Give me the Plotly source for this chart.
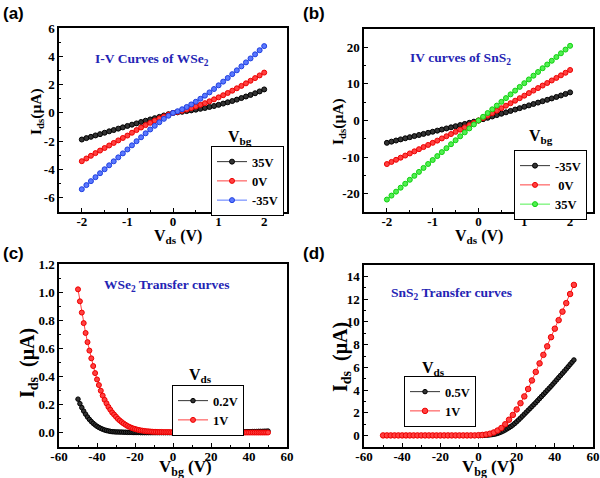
import plotly.graph_objects as go

# ---------------- data ----------------
vds = [round(-2 + 0.1 * i, 1) for i in range(41)]

# (a) WSe2 I-V
wse2_35 = [-1.88, -1.78, -1.69, -1.59, -1.50, -1.40, -1.30, -1.21, -1.11, -1.02, -0.92,
           -0.83, -0.74, -0.64, -0.55, -0.46, -0.37, -0.28, -0.18, -0.09, 0.0,
           0.04, 0.08, 0.13, 0.18, 0.23, 0.29, 0.35, 0.42, 0.49, 0.57,
           0.66, 0.75, 0.84, 0.94, 1.05, 1.16, 1.27, 1.39, 1.52, 1.66]
wse2_0 = [-3.41, -3.22, -3.03, -2.84, -2.66, -2.48, -2.30, -2.12, -1.94, -1.77, -1.60,
          -1.40, -1.21, -1.03, -0.86, -0.70, -0.54, -0.39, -0.25, -0.12, 0.0,
          0.07, 0.15, 0.24, 0.34, 0.45, 0.57, 0.69, 0.82, 0.96, 1.10,
          1.25, 1.41, 1.57, 1.74, 1.91, 2.09, 2.27, 2.46, 2.65, 2.85]
wse2_m35 = [-5.39, -5.10, -4.82, -4.54, -4.26, -3.98, -3.70, -3.42, -3.14, -2.86, -2.58,
            -2.29, -2.00, -1.72, -1.44, -1.17, -0.91, -0.66, -0.42, -0.20, 0.0,
            0.12, 0.26, 0.42, 0.60, 0.79, 1.00, 1.22, 1.45, 1.69, 1.95,
            2.21, 2.47, 2.74, 3.01, 3.29, 3.57, 3.85, 4.14, 4.43, 4.72]

# (b) SnS2 I-V
sns2_m35 = [-6.10, -5.78, -5.47, -5.16, -4.86, -4.56, -4.26, -3.96, -3.66, -3.37, -3.07,
            -2.77, -2.47, -2.17, -1.87, -1.56, -1.25, -0.94, -0.63, -0.32, 0.0,
            0.36, 0.73, 1.10, 1.47, 1.85, 2.23, 2.61, 2.99, 3.37, 3.75,
            4.13, 4.51, 4.89, 5.27, 5.65, 6.03, 6.43, 6.84, 7.26, 7.68]
sns2_0 = [-11.90, -11.32, -10.74, -10.16, -9.58, -9.00, -8.42, -7.84, -7.26, -6.68, -6.10,
          -5.50, -4.90, -4.30, -3.70, -3.10, -2.50, -1.88, -1.26, -0.64, 0.0,
          0.66, 1.33, 2.00, 2.68, 3.36, 4.04, 4.72, 5.41, 6.10, 6.79,
          7.48, 8.17, 8.86, 9.55, 10.24, 10.94, 11.64, 12.34, 13.04, 13.80]
sns2_35 = [-21.60, -20.52, -19.44, -18.36, -17.28, -16.20, -15.12, -14.04, -12.96, -11.88, -10.80,
           -9.72, -8.64, -7.56, -6.48, -5.40, -4.32, -3.24, -2.16, -1.08, 0.0,
           1.02, 2.04, 3.06, 4.08, 5.10, 6.12, 7.14, 8.16, 9.18, 10.20,
           11.22, 12.24, 13.26, 14.28, 15.30, 16.32, 17.34, 18.36, 19.38, 20.40]

# (c) WSe2 transfer
vbg_c = list(range(-50, 51))
wse2_t02 = ([0.24, 0.208, 0.18, 0.155, 0.133, 0.113, 0.096, 0.081, 0.068, 0.057, 0.047,
             0.039, 0.032, 0.026, 0.021, 0.017, 0.014, 0.011, 0.009, 0.008, 0.007]
            + [0.007, 0.006, 0.006, 0.005, 0.005, 0.004, 0.004, 0.004, 0.003, 0.003,
               0.003, 0.003, 0.002, 0.002, 0.002, 0.002, 0.002, 0.002, 0.002, 0.002]
            + [0.002] * 30
            + [0.003, 0.003, 0.003, 0.004, 0.004, 0.004, 0.005, 0.005, 0.005, 0.006,
               0.006, 0.006, 0.007, 0.007, 0.007, 0.008, 0.008, 0.008, 0.009, 0.009,
               0.009, 0.010, 0.010, 0.010, 0.011, 0.011, 0.011, 0.012, 0.012, 0.013])
wse2_t1 = ([1.02, 0.935, 0.855, 0.78, 0.71, 0.645, 0.585, 0.53, 0.475, 0.425, 0.38,
            0.34, 0.30, 0.265, 0.235, 0.21, 0.185, 0.165, 0.145, 0.13, 0.115,
            0.10, 0.088, 0.077, 0.067, 0.058, 0.05, 0.043, 0.037, 0.032, 0.028,
            0.024, 0.021, 0.018, 0.016, 0.014, 0.012, 0.011, 0.010, 0.009, 0.008]
           + [0.008, 0.007, 0.007, 0.007, 0.006, 0.006, 0.006, 0.006, 0.005, 0.005]
           + [0.005] * 10 + [0.004] * 20 + [0.003] * 20)

# (d) SnS2 transfer
vbg_d05 = list(range(0, 51))
sns2_t05 = [0.0, 0.01, 0.02, 0.03, 0.04, 0.05, 0.07, 0.09, 0.12, 0.15, 0.20,
            0.26, 0.33, 0.41, 0.50, 0.60, 0.70, 0.81, 0.93, 1.07, 1.22,
            1.38, 1.54, 1.71, 1.88, 2.05, 2.22, 2.39, 2.56, 2.73, 2.90,
            3.08, 3.26, 3.44, 3.62, 3.80, 3.98, 4.16, 4.34, 4.53, 4.72,
            4.91, 5.10, 5.29, 5.48, 5.67, 5.86, 6.06, 6.26, 6.45, 6.65]
vbg_d1 = list(range(-50, 51, 2))
sns2_t1 = ([0.02] * 25
           + [0.04, 0.06, 0.10, 0.17, 0.28, 0.45, 0.67, 1.00, 1.40, 1.82, 2.30,
              2.85, 3.45, 4.10, 4.85, 5.60, 6.35, 7.10, 7.85, 8.65, 9.40,
              10.15, 10.90, 11.65, 12.45, 13.25])

# tick labels
ticks_a_x = [-2, -1, 0, 1, 2]
ticks_a_y = [-6, -4, -2, 0, 2, 4, 6]
ticks_b_y = [-20, -10, 0, 10, 20]
ticks_c_x = [-60, -40, -20, 0, 20, 40, 60]
ticks_c_y = [0.0, 0.2, 0.4, 0.6, 0.8, 1.0, 1.2]
ticks_d_y = [0, 2, 4, 6, 8, 10, 12, 14]

SERIF = "Liberation Serif"
SANS = "Liberation Sans"
W, H = 600, 478
BLUE_TXT = "#2424b4"


def px(x):
    return x / W


def py(y):
    return 1 - y / H


def lab(v, fmt="{:g}"):
    return fmt.format(v).replace("\u2212", "-")


fig = go.Figure()


def add(xs, ys, name, color, edge, xa, ya, leg, size=5):
    fig.add_trace(go.Scatter(
        x=xs, y=ys, name=name, mode="lines+markers", xaxis=xa, yaxis=ya, legend=leg,
        line=dict(color=color, width=1),
        marker=dict(symbol="circle", size=size, color=color, line=dict(color=edge, width=1)),
        showlegend=True, cliponaxis=True))


BLACK, BLACK_E = "#333333", "#000000"
RED, RED_E = "#ff4040", "#ee0000"
BL, BL_E = "#5a78ff", "#1f3fe0"
GR, GR_E = "#50f050", "#10d010"

add(vds, wse2_35, "35V", BLACK, BLACK_E, "x", "y", "legend")
add(vds, wse2_0, "0V", RED, RED_E, "x", "y", "legend")
add(vds, wse2_m35, "-35V", BL, BL_E, "x", "y", "legend")

add(vds, sns2_m35, "-35V", BLACK, BLACK_E, "x2", "y2", "legend2")
add(vds, sns2_0, " 0V", RED, RED_E, "x2", "y2", "legend2")
add(vds, sns2_35, "35V", GR, GR_E, "x2", "y2", "legend2")

add(vbg_c, wse2_t02, "0.2V", BLACK, BLACK_E, "x3", "y3", "legend3", size=4.5)
add(vbg_c, wse2_t1, "1V", RED, RED_E, "x3", "y3", "legend3", size=5)

add(vbg_d05, sns2_t05, "0.5V", BLACK, BLACK_E, "x4", "y4", "legend4", size=4.5)
add(vbg_d1, sns2_t1, "1V", RED, RED_E, "x4", "y4", "legend4", size=5.5)

tickfont = dict(family=SERIF, size=13, color="black", weight="bold")


def axis(domain, rng, tvals, ttext, minor_dtick, anchor, is_x):
    d = dict(domain=domain, range=rng, anchor=anchor, automargin=False,
             tickmode="array", tickvals=tvals, ticktext=ttext,
             ticks="inside", ticklen=4, tickwidth=1, tickcolor="black",
             minor=dict(dtick=minor_dtick, tick0=0, ticks="inside", ticklen=2,
                        tickwidth=1, tickcolor="black"),
             showline=True, linecolor="black", linewidth=1.5, mirror=True,
             showgrid=False, zeroline=False, tickfont=tickfont)
    if is_x:
        d["ticklabelstandoff"] = -3
    return d


fig.update_layout(
    width=W, height=H, margin=dict(l=0, r=0, t=0, b=0, autoexpand=False),
    paper_bgcolor="white", plot_bgcolor="white", showlegend=True,
    xaxis=axis([px(59), px(287)], [-2.5, 2.5], ticks_a_x, [lab(v) for v in ticks_a_x], 0.5, "y", True),
    yaxis=axis([py(212), py(28)], [-7, 6], ticks_a_y, [lab(v) for v in ticks_a_y], 1, "x", False),
    xaxis2=axis([px(364), px(593)], [-2.5, 2.5], ticks_a_x, [lab(v) for v in ticks_a_x], 0.5, "y2", True),
    yaxis2=axis([py(212), py(29)], [-25, 25], ticks_b_y, [lab(v) for v in ticks_b_y], 5, "x2", False),
    xaxis3=axis([px(59), px(287)], [-60, 60], ticks_c_x, [lab(v) for v in ticks_c_x], 10, "y3", True),
    yaxis3=axis([py(447), py(264)], [-0.1, 1.2], ticks_c_y, [lab(v, "{:.1f}") for v in ticks_c_y], 0.1, "x3", False),
    xaxis4=axis([px(364), px(593)], [-60, 60], ticks_c_x, [lab(v) for v in ticks_c_x], 10, "y4", True),
    yaxis4=axis([py(447), py(265)], [-1, 15], ticks_d_y, [lab(v) for v in ticks_d_y], 1, "x4", False),
)

legfont = dict(family=SERIF, size=12.5, color="black", weight="bold")


def leg(x, y):
    return dict(x=px(x), y=py(y), xanchor="left", yanchor="top", bgcolor="white",
                bordercolor="black", borderwidth=1, font=legfont, itemwidth=30,
                tracegroupgap=0, traceorder="normal")


fig.update_layout(
    legend=leg(211, 146),
    legend2=leg(514, 150),
    legend3=leg(172, 385),
    legend4=leg(404, 376),
)

ann = []


def txt(t, x, y, size, family=SERIF, color="black", angle=0, xanchor="center", yanchor="middle"):
    ann.append(dict(text="<b>%s</b>" % t, x=px(x), y=py(y), xref="paper", yref="paper",
                    xanchor=xanchor, yanchor=yanchor, showarrow=False, textangle=angle,
                    font=dict(family=family, size=size, color=color)))


for t, x, y in [("(a)", 1, 2), ("(b)", 301, 2), ("(c)", 1, 242), ("(d)", 301, 242)]:
    txt(t, x, y, 17, SANS, xanchor="left", yanchor="top")

txt("I-V Curves of WSe<sub>2</sub>", 152, 59, 13.5, color=BLUE_TXT)
txt("IV curves of SnS<sub>2</sub>", 460, 58, 13.5, color=BLUE_TXT)
txt("WSe<sub>2</sub> Transfer curves", 166, 285, 13.5, color=BLUE_TXT)
txt("SnS<sub>2</sub> Transfer curves", 451, 293, 13.5, color=BLUE_TXT)

txt("V<sub>bg</sub>", 240, 137, 16)
txt("V<sub>bg</sub>", 541, 136, 16)
txt("V<sub>ds</sub>", 200, 375, 16)
txt("V<sub>ds</sub>", 433, 368, 16)

# axis titles
txt("V<sub>ds</sub> (V)", 178, 236, 16)
txt("V<sub>ds</sub> (V)", 479, 236, 16)
txt("V<sub>bg</sub> (V)", 185, 468, 17)
txt("V<sub>bg</sub> (V)", 489, 468, 17)
txt("I<sub>ds</sub>(μA)", 37, 112, 15.5, angle=-90)
txt("I<sub>ds</sub>(μA)", 339, 121, 15.5, angle=-90)
txt("I<sub>ds</sub>&nbsp; (μA)", 28, 363, 20, angle=-90)
txt("I<sub>ds</sub>&nbsp; (μA)", 341, 357, 20, angle=-90)

fig.update_layout(annotations=ann)

fig.write_html("out.html", config={"displayModeBar": False},
               post_script="document.body.style.margin='0px';")
